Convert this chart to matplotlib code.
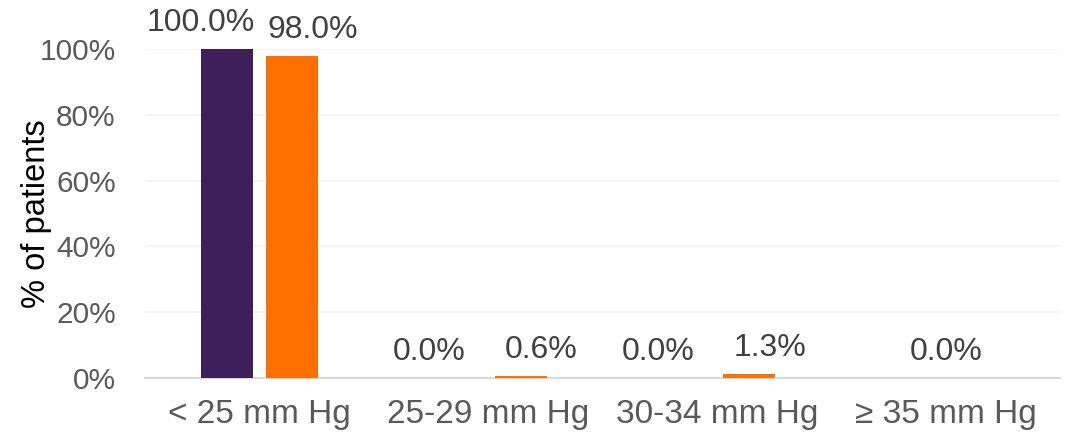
import matplotlib
matplotlib.use("Agg")
import matplotlib.pyplot as plt
import numpy as np

categories = ["< 25 mm Hg", "25-29 mm Hg", "30-34 mm Hg", "\u2265 35 mm Hg"]
series_a = [100.0, 0.0, 0.0, 0.0]
series_b = [98.0, 0.6, 1.3, None]
y_ticks = [0, 20, 40, 60, 80, 100]

purple = "#3F1F5A"
orange = "#FF7000"
label_col = "#404040"
tick_col = "#595959"

plt.rcParams["font.family"] = ["Liberation Sans", "DejaVu Sans"]

fig = plt.figure(figsize=(10.74, 4.34), dpi=100)
ax = fig.add_axes([0.135, 0.129, 0.852, 0.758])

x = np.arange(len(categories))
w = 0.227
off = 0.142
lab_size = 23

for i in range(len(categories)):
    a = series_a[i]
    b = series_b[i]
    if a is not None and b is not None:
        ax.bar(x[i] - off, a, w, color=purple, zorder=3)
        ax.bar(x[i] + off, b, w, color=orange, zorder=3)
        ax.annotate(f"{a:.1f}%", (x[i] - off, a), xytext=(-19, 8),
                    textcoords="offset points", ha="center", va="bottom",
                    fontsize=lab_size, color=label_col, annotation_clip=False)
        ax.annotate(f"{b:.1f}%", (x[i] + off, b), xytext=(15, 8),
                    textcoords="offset points", ha="center", va="bottom",
                    fontsize=lab_size, color=label_col, annotation_clip=False)
    else:
        v = a if a is not None else b
        ax.bar(x[i], v, w, color=purple if a is not None else orange, zorder=3)
        ax.annotate(f"{v:.1f}%", (x[i], v), xytext=(0, 8),
                    textcoords="offset points", ha="center", va="bottom",
                    fontsize=lab_size, color=label_col, annotation_clip=False)

ax.set_xlim(-0.5, len(categories) - 0.5)
ax.set_ylim(0, 100)
ax.set_yticks(y_ticks)
ax.set_yticklabels([f"{t}%" for t in y_ticks])
ax.set_xticks(x)
ax.set_xticklabels(categories)
ax.tick_params(axis="y", length=0, pad=21, labelsize=21.5, labelcolor=tick_col)
ax.tick_params(axis="x", length=0, pad=15, labelsize=24, labelcolor=tick_col)

ax.grid(axis="y", color="#F2F2F2", linewidth=1.2, zorder=0)
for s in ["top", "right", "left"]:
    ax.spines[s].set_visible(False)
ax.spines["bottom"].set_color("#D9D9D9")
ax.spines["bottom"].set_linewidth(1.5)

ax.set_ylabel("% of patients", fontsize=23.5, color="black", labelpad=-9)

fig.savefig("out.png", dpi=100)
